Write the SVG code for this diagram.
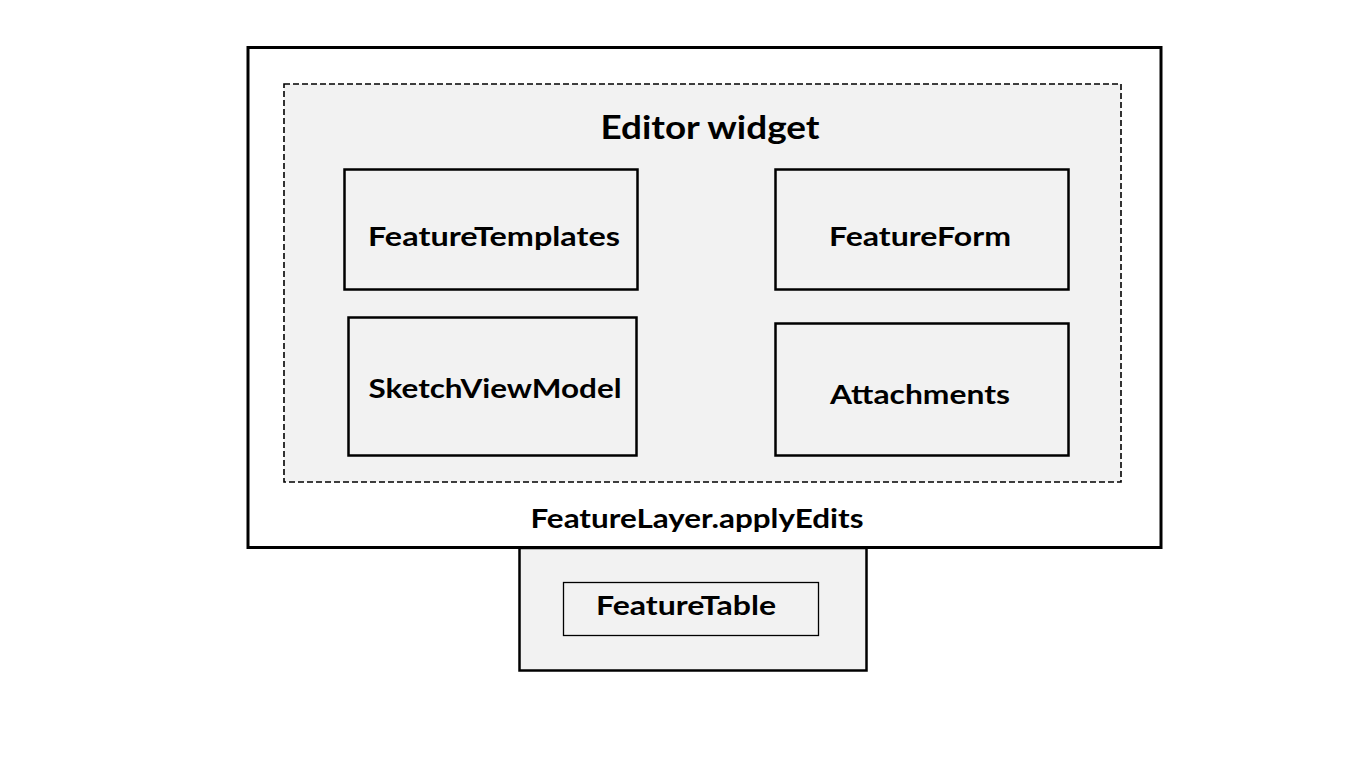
<svg xmlns="http://www.w3.org/2000/svg" width="1366" height="768" viewBox="0 0 1366 768">
<style>
.t{font-family:Lato,"Open Sans","Liberation Sans",sans-serif;font-weight:bold;fill:#000;text-anchor:middle}
.box{fill:#f2f2f2;stroke:#000;stroke-width:2.5}
</style>
<rect width="1366" height="768" fill="#fff"/>
<g id="outer">
<rect x="248" y="47.5" width="913" height="500" fill="#fff" stroke="#000" stroke-width="3"/>
<text class="t" x="697" y="528" font-size="26" textLength="333" lengthAdjust="spacingAndGlyphs">FeatureLayer.applyEdits</text>
</g>
<g id="editor">
<rect x="284" y="84" width="837" height="398" fill="#f2f2f2" stroke="#000" stroke-width="1.6" stroke-dasharray="6,3"/>
<text class="t" x="710" y="139" font-size="32" textLength="219" lengthAdjust="spacingAndGlyphs">Editor widget</text>
</g>
<g id="featureTemplates">
<rect class="box" x="344.5" y="169.5" width="293" height="120"/>
<text class="t" x="494" y="246" font-size="26" textLength="252" lengthAdjust="spacingAndGlyphs">FeatureTemplates</text>
</g>
<g id="featureForm">
<rect class="box" x="775.5" y="169.5" width="293" height="120"/>
<text class="t" x="920" y="246" font-size="26" textLength="182" lengthAdjust="spacingAndGlyphs">FeatureForm</text>
</g>
<g id="sketchViewModel">
<rect class="box" x="348.5" y="317.5" width="288" height="138"/>
<text class="t" x="495" y="398" font-size="26" textLength="253" lengthAdjust="spacingAndGlyphs">SketchViewModel</text>
</g>
<g id="attachments">
<rect class="box" x="775.5" y="323.5" width="293" height="132"/>
<text class="t" x="920" y="404" font-size="26" textLength="180" lengthAdjust="spacingAndGlyphs">Attachments</text>
</g>
<g id="featureTableContainer">
<rect class="box" x="519.5" y="548" width="347" height="122.5"/>
</g>
<g id="featureTable">
<rect x="563.5" y="582.5" width="255" height="53" fill="#f2f2f2" stroke="#000" stroke-width="1.3"/>
<text class="t" x="686" y="615" font-size="26" textLength="180" lengthAdjust="spacingAndGlyphs">FeatureTable</text>
</g>
<g id="connectors"/>
</svg>
